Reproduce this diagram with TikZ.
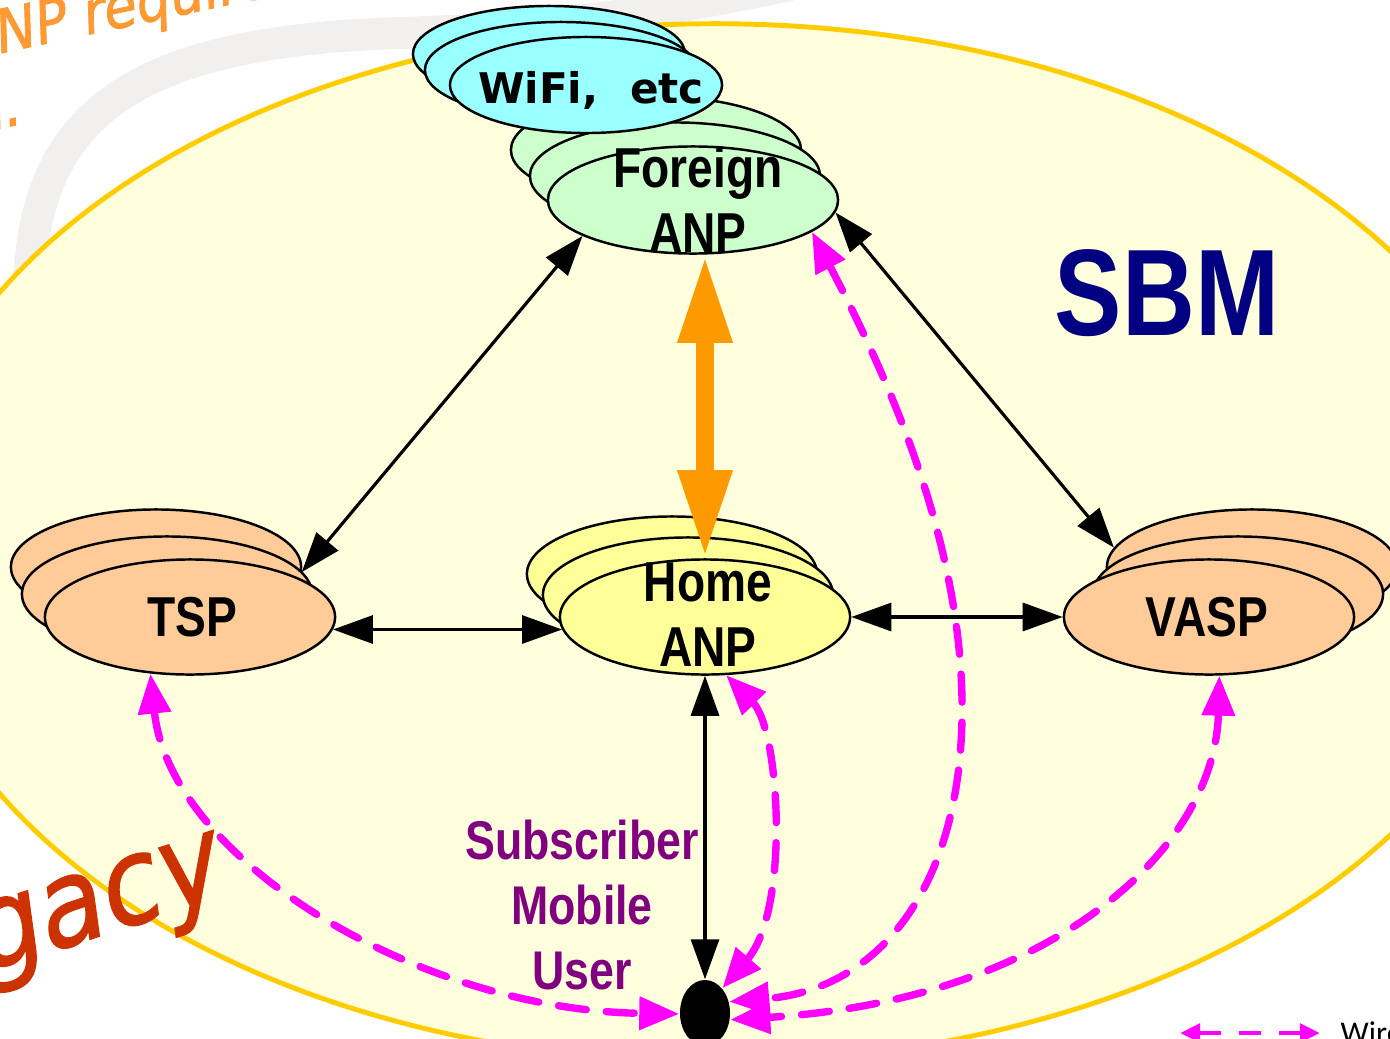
\documentclass[tikz,border=0pt]{standalone}
\usepackage{fontspec}
\usepackage{tikz}
\usetikzlibrary{shapes,arrows,arrows.meta,positioning,calc}
\setmainfont{Liberation Sans}
\newfontfamily\narrowFont[FakeStretch=0.82]{Liberation Sans}
\newfontfamily\wideFont{DejaVu Sans}
\newfontfamily\handFont[FakeStretch=0.9,FakeSlant=0.18,FakeBold=1.3]{DejaVu Sans}
\newfontfamily\legendFont{Carlito}
\definecolor{sbmBack}{HTML}{FFFFDD}
\definecolor{sbmBorder}{HTML}{FFCC00}
\definecolor{sbmGrey}{HTML}{F2F0EF}
\definecolor{sbmWifi}{HTML}{99FFFF}
\definecolor{sbmForeign}{HTML}{CCFFCC}
\definecolor{sbmHome}{HTML}{FFFF99}
\definecolor{sbmProvider}{HTML}{FFCC99}
\definecolor{sbmOrange}{HTML}{FF9900}
\definecolor{sbmMagenta}{HTML}{FF00FF}
\definecolor{sbmPurple}{HTML}{800080}
\definecolor{sbmNavy}{HTML}{000080}
\definecolor{sbmNote}{HTML}{FF9933}
\definecolor{sbmLegacy}{HTML}{CC3300}
\tikzset{
    sbmPadBase/.style={
        ellipse,
        draw=black,
        line width=0.7pt,
        minimum width=2.9cm,
        minimum height=1.15cm,
        inner sep=0pt
    },
    % Pad variants
    wifiPad/.style={sbmPadBase, fill=sbmWifi, minimum width=2.72cm, minimum height=0.96cm},
    foreignPad/.style={sbmPadBase, fill=sbmForeign, minimum height=1.07cm},
    homePad/.style={sbmPadBase, fill=sbmHome},
    providerPad/.style={sbmPadBase, fill=sbmProvider},
    sbmArea/.style={ellipse, draw=sbmBorder, fill=sbmBack, line width=1.4pt,
        minimum width=16.32cm, minimum height=10.38cm, inner sep=0pt},
    userDot/.style={ellipse, fill=black, inner sep=0pt, minimum width=0.5cm, minimum height=0.66cm},
    % Notes
    handNote/.style={font=\handFont\fontsize{17}{17}\selectfont, text=sbmNote, rotate=12, inner sep=0pt},
    % Arrows
    sbmArrowBase/.style={{Triangle[length=0.4cm,width=0.28cm]}-{Triangle[length=0.4cm,width=0.28cm]}, line width=0.9pt, draw=black},
    wireless/.style={{Triangle[length=0.4cm,width=0.32cm]}-{Triangle[length=0.4cm,width=0.32cm]},
        line width=2.1pt, draw=sbmMagenta, dash pattern=on 0.28cm off 0.2cm, line cap=round},
    roam/.style={{Triangle[length=0.88cm,width=0.5cm]}-{Triangle[length=0.88cm,width=0.5cm]}, line width=0.18cm, draw=sbmOrange}
}
\begin{document}
\begin{tikzpicture}[x=0.01cm, y=-0.01cm,
    lbl/.style={font=\narrowFont\bfseries\fontsize{16}{18.5}\selectfont, align=center, inner sep=0pt},
    arr/.style={sbmArrowBase}
]
\useasboundingbox (0,0) rectangle (1390,1039);
\clip (0,0) rectangle (1390,1039);

% slide backdrop
\draw[draw=sbmGrey, line width=0.32cm] (30,330) .. controls (18,120) and (120,42) .. (400,33) .. controls (560,28) and (660,12) .. (790,-15);
\node[handNote, anchor=base west] (noteTop) at (-40,62) {ANP require};
\node[handNote, anchor=base east] (noteEnd) at (22,124) {n.};
\node[sbmArea] (sbm) at (715,543) {};
\node[font=\narrowFont\bfseries\fontsize{35}{40}\selectfont, text=sbmNavy, anchor=base, inner sep=0pt] (sbmTitle) at (1167,335) {SBM};
\node[font=\handFont\fontsize{34}{34}\selectfont, text=sbmLegacy, rotate=18, anchor=base east, inner sep=0pt] (legacyTxt) at (226,895) {Legacy};

% Foreign ANP
\node[foreignPad] (fanpC) at (656,150) {};
\node[foreignPad] (fanpB) at (675,176) {};
\node[foreignPad] (fanp) at (693,200) {};
\node[lbl, anchor=north] (fanpTxt) at (698,146) {Foreign\\ANP};

% WiFi
\node[wifiPad] (wifiC) at (549,54) {};
\node[wifiPad] (wifiB) at (561,70) {};
\node[wifiPad] (wifi) at (586,85) {};
\node[font=\wideFont\bfseries\fontsize{12}{14}\selectfont, anchor=base, inner sep=0pt] (wifiTxt) at (591,103) {WiFi,\hspace{0.75em}etc};

% Home ANP
\node[homePad] (hanpC) at (672,574) {};
\node[homePad] (hanpB) at (688,595) {};
\node[homePad] (hanp) at (705,617) {};
\node[lbl, anchor=north] (hanpTxt) at (708,562) {Home\\ANP};

% TSP
\node[providerPad] (tspC) at (156,567) {};
\node[providerPad] (tspB) at (167,594) {};
\node[providerPad] (tsp) at (190,617) {};
\node[lbl] (tspTxt) at (192,617) {TSP};

% VASP
\node[providerPad] (vaspC) at (1252,567) {};
\node[providerPad] (vaspB) at (1238,594) {};
\node[providerPad] (vasp) at (1209,617) {};
\node[lbl] (vaspTxt) at (1207,617) {VASP};

% mobile user
\node[userDot] (mu) at (705,1013) {};
\node[lbl, anchor=north, text=sbmPurple, font=\narrowFont\bfseries\fontsize{15.5}{18.5}\selectfont] (muTxt) at (582,819) {Subscriber\\Mobile\\User};

% signalling
\draw[arr] (fanp.198) -- (tspC.-2);
\draw[arr] (fanp.355) -- (vaspC.172);
\draw[arr] (tsp.-5) -- (hanp.185);
\draw[arr] (hanp.0) -- (vasp.180);
\draw[arr] (hanp.south) -- (mu.north);
\draw[roam] (hanp.north |- fanp.south) -- (hanp.north);

% wireless access
\draw[wireless] (tsp.235) .. controls (170,860) and (420,1010) .. (mu.182);
\draw[wireless] (hanp.290) .. controls (780,730) and (790,910) .. (mu.55);
\draw[wireless] (fanp.-15) .. controls (900,400) and (965,560) .. (962,720) .. controls (958,900) and (870,990) .. (mu.25);
\draw[wireless] (vasp.280) .. controls (1215,850) and (1050,1000) .. (mu.-15);

% legend
\node[font=\legendFont\fontsize{9}{10}\selectfont, anchor=base west, inner xsep=0.2cm, inner ysep=0pt] (legTxt) at (1320,1043) {Wireless};
\coordinate (legStart) at (1180,1033);
\draw[{Triangle[length=0.2cm,width=0.18cm]}-{Triangle[length=0.2cm,width=0.18cm]}, line width=1.4pt, draw=sbmMagenta, dash pattern=on 0.22cm off 0.18cm] (legStart) -- (legTxt.west |- legStart);
\end{tikzpicture}
\end{document}
